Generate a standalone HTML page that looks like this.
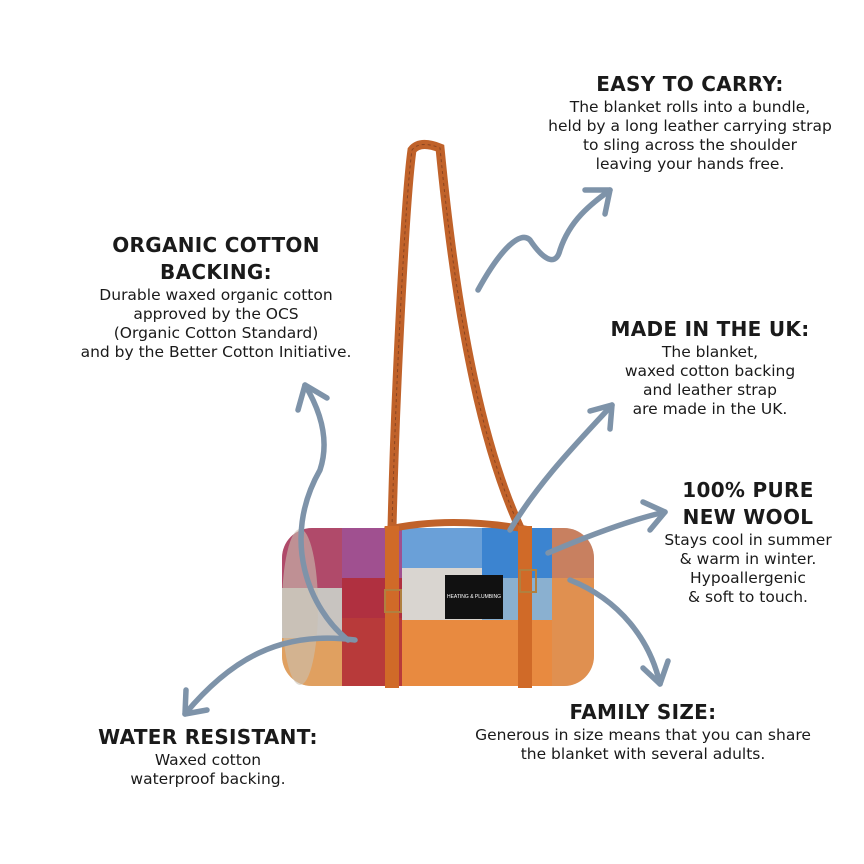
<!DOCTYPE html>
<html><head><meta charset="utf-8"><style>
body{margin:0;width:864px;height:864px;background:#fff;position:relative;overflow:hidden;font-family:"DejaVu Sans","Liberation Sans",sans-serif;color:#1a1a1a}
.b{position:absolute;text-align:center;transform:translateX(-50%);white-space:nowrap}
.h{font-weight:bold;font-size:20px;letter-spacing:0.3px;line-height:27px}
.t{font-size:15.5px;line-height:19px}
svg{position:absolute;left:0;top:0}
</style></head><body>
<svg width="864" height="864" viewBox="0 0 864 864">
<defs>
<clipPath id="roll"><rect x="282" y="528" width="312" height="158" rx="30"/></clipPath>
</defs>
<path d="M392 528 C395 400 405 200 412 150 Q420 140 440 148 C450 250 470 420 520 528" fill="none" stroke="#c0622a" stroke-width="9"/>
<path d="M392 528 C395 400 405 200 412 150 Q420 140 440 148 C450 250 470 420 520 528" fill="none" stroke="#8a4420" stroke-width="1" stroke-dasharray="3 3"/>
<g clip-path="url(#roll)">
<rect x="282" y="528" width="312" height="158" fill="#d9d5d0"/>
<rect x="282" y="528" width="60" height="60" fill="#b04a6a"/>
<rect x="282" y="588" width="60" height="50" fill="#c8c4c0"/>
<rect x="282" y="638" width="60" height="48" fill="#e0a060"/>
<rect x="342" y="528" width="60" height="50" fill="#a05090"/>
<rect x="342" y="578" width="60" height="40" fill="#b03040"/>
<rect x="342" y="618" width="60" height="68" fill="#b83a3a"/>
<rect x="402" y="528" width="80" height="40" fill="#6aa0d8"/>
<rect x="482" y="528" width="70" height="50" fill="#3c84d0"/>
<rect x="552" y="528" width="42" height="50" fill="#c88060"/>
<rect x="402" y="620" width="150" height="66" fill="#e88a40"/>
<rect x="552" y="578" width="42" height="108" fill="#e09050"/>
<rect x="482" y="578" width="70" height="42" fill="#8ab0d0"/>
</g>
<ellipse cx="300" cy="607" rx="18" ry="78" fill="#c9c0b0" opacity="0.6"/>
<path d="M385 530 Q450 515 530 530" fill="none" stroke="#c0622a" stroke-width="7"/>
<rect x="385" y="526" width="14" height="162" fill="#d06a28"/>
<rect x="518" y="526" width="14" height="162" fill="#d06a28"/>
<rect x="385" y="590" width="16" height="22" fill="none" stroke="#b08040" stroke-width="2"/>
<rect x="520" y="570" width="16" height="22" fill="none" stroke="#b08040" stroke-width="2"/>
<rect x="445" y="575" width="58" height="44" fill="#111"/>
<text x="474" y="598" font-size="5" fill="#fff" text-anchor="middle" font-family="Liberation Sans">HEATING &amp; PLUMBING</text>
<g fill="none" stroke="#7e93a9" stroke-width="5.5" stroke-linecap="round" stroke-linejoin="round">
<path d="M478 290 C500 250 520 230 530 240 C540 255 555 270 560 250 C570 220 590 205 610 190"/>
<path d="M585 190 L610 190 L605 214"/>
<path d="M348 640 C310 610 280 540 320 470 C330 440 320 410 305 385"/>
<path d="M298 410 L305 385 L327 398"/>
<path d="M510 530 C540 480 580 440 612 405"/>
<path d="M590 411 L612 405 L610 429"/>
<path d="M548 553 C590 535 630 520 665 512"/>
<path d="M643 502 L665 512 L650 530"/>
<path d="M570 580 C620 600 650 640 660 684"/>
<path d="M643 668 L660 684 L668 661"/>
<path d="M355 640 C280 630 230 660 185 714"/>
<path d="M186 690 L185 714 L207 710"/>
</g>
</svg>
<div class="b" style="left:690px;top:71px"><div class="h">EASY TO CARRY:</div><div class="t">The blanket rolls into a bundle,<br>held by a long leather carrying strap<br>to sling across the shoulder<br>leaving your hands free.</div></div>
<div class="b" style="left:216px;top:232px"><div class="h">ORGANIC COTTON<br>BACKING:</div><div class="t">Durable waxed organic cotton<br>approved by the OCS<br>(Organic Cotton Standard)<br>and by the Better Cotton Initiative.</div></div>
<div class="b" style="left:710px;top:316px"><div class="h">MADE IN THE UK:</div><div class="t">The blanket,<br>waxed cotton backing<br>and leather strap<br>are made in the UK.</div></div>
<div class="b" style="left:748px;top:477px"><div class="h">100% PURE<br>NEW WOOL</div><div class="t">Stays cool in summer<br>&amp; warm in winter.<br>Hypoallergenic<br>&amp; soft to touch.</div></div>
<div class="b" style="left:643px;top:699px"><div class="h">FAMILY SIZE:</div><div class="t">Generous in size means that you can share<br>the blanket with several adults.</div></div>
<div class="b" style="left:208px;top:724px"><div class="h">WATER RESISTANT:</div><div class="t">Waxed cotton<br>waterproof backing.</div></div>
</body></html>
